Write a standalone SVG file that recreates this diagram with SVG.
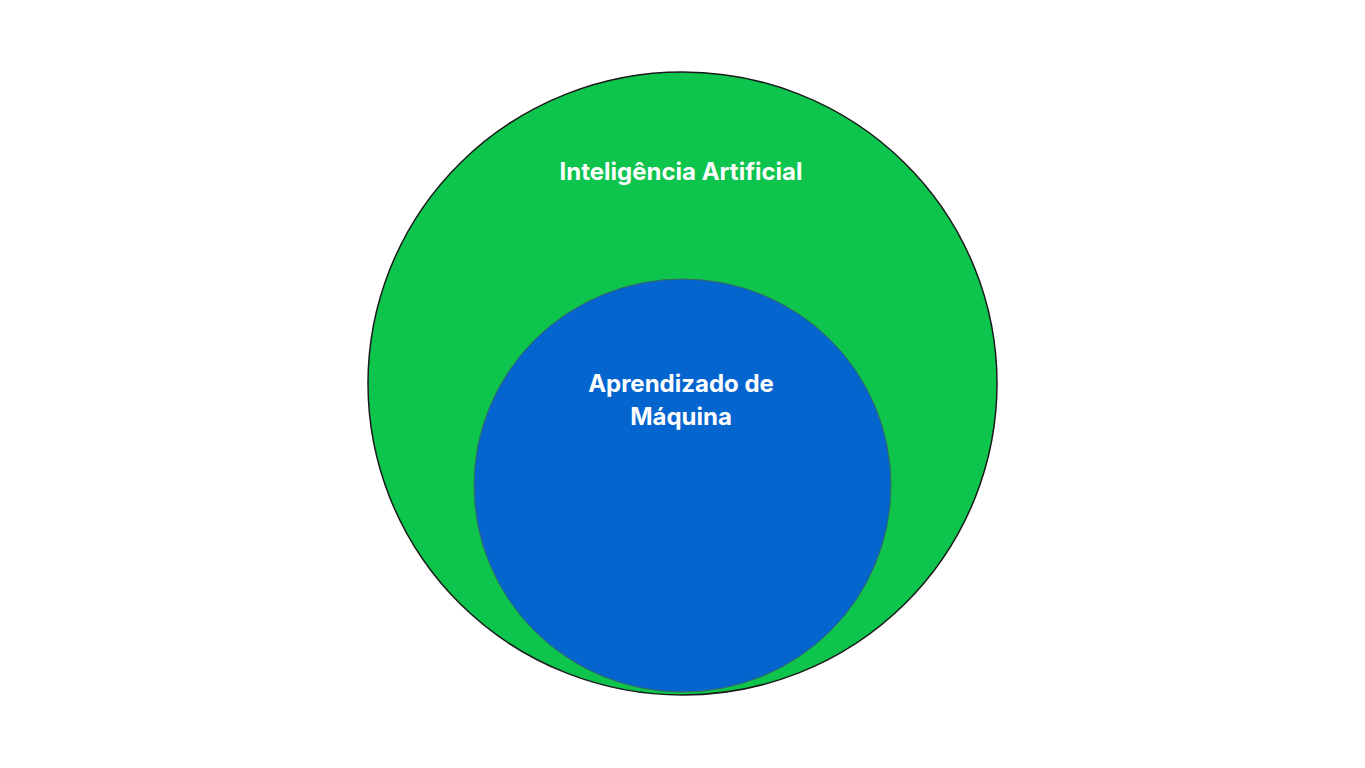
<svg xmlns="http://www.w3.org/2000/svg" width="1365" height="768" viewBox="0 0 1365 768">
<style>
.lbl{font-family:Inter,"Open Sans","Liberation Sans",sans-serif;font-weight:700;fill:#fff;text-anchor:middle}
</style>
<rect width="1365" height="768" fill="#fff"/>
<g id="ai">
<ellipse cx="682.5" cy="383.5" rx="314.5" ry="311.5" fill="#0dc44d" stroke="#1a1a1a" stroke-width="1.5"/>
<text class="lbl" x="681" y="180" font-size="24">Inteligência Artificial</text>
</g>
<g id="ml">
<ellipse cx="682.5" cy="485.5" rx="208.5" ry="206.5" fill="#0565cf" stroke="#3a6a5a" stroke-width="1"/>
<text class="lbl" x="681" y="392" font-size="24">Aprendizado de</text>
<text class="lbl" x="681" y="425" font-size="24">Máquina</text>
</g>
<g id="connectors"/>
</svg>
